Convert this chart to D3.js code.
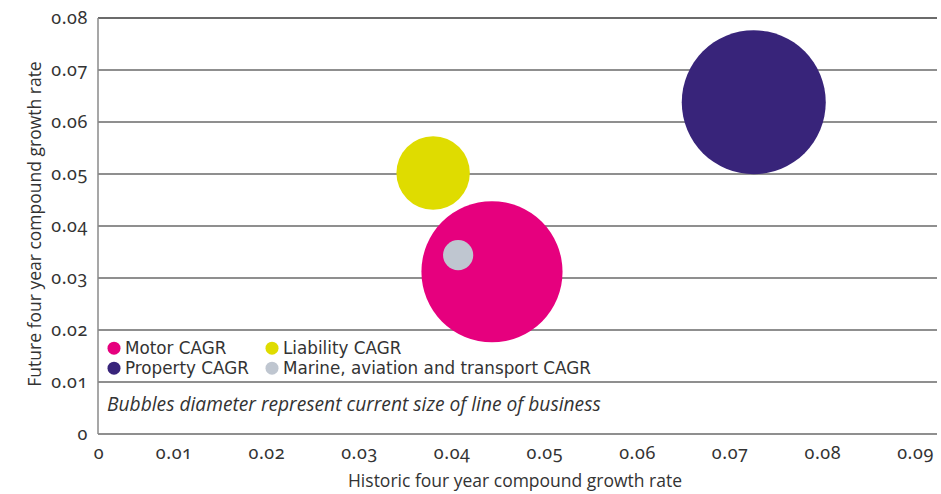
<!DOCTYPE html>
<html lang="en">
<head>
    <meta charset="UTF-8">
    <title>Line of business growth</title>
    <script src="https://d3js.org/d3.v7.min.js"></script>
    <style>
        body {
            margin: 0;
            background-color: #ffffff;
        }

        svg {
            display: block;
            font-family: "Open Sans", Roboto, sans-serif;
        }

        .grid line {
            stroke: #6a6a6a;
            stroke-width: 1.4px;
        }

        .axis path,
        .axis line {
            display: none;
        }

        .axis text {
            font-family: "Noto Sans", sans-serif;
            font-size: 18px;
            letter-spacing: 0.6px;
            font-variant-numeric: oldstyle-nums;
            fill: #333;
        }

        .axis-title {
            font-size: 17.5px;
            fill: #333;
        }

        .legend text {
            font-family: "DejaVu Sans", sans-serif;
            font-size: 16.8px;
            fill: #333;
        }

        .note {
            font-size: 19.2px;
            font-style: italic;
            fill: #333;
        }
    </style>
</head>
<body>
<svg width="941" height="494"></svg>
<script>
    // data
    const series = ["Motor CAGR", "Liability CAGR", "Property CAGR", "Marine, aviation and transport CAGR"];
    const historic = [0.04435, 0.0380, 0.0726, 0.0407];   // x
    const future = [0.0312, 0.0502, 0.0638, 0.0344];      // y
    const businessSize = [98, 51, 100, 21];                // bubble diameter
    const colors = ["#e6007e", "#dfdc00", "#38247a", "#bfc6d0"];
    const drawOrder = [2, 1, 0, 3];
    const legendOrder = [0, 1, 2, 3];

    const xTicks = [0, 0.01, 0.02, 0.03, 0.04, 0.05, 0.06, 0.07, 0.08, 0.09];
    const yTicks = [0, 0.01, 0.02, 0.03, 0.04, 0.05, 0.06, 0.07, 0.08];

    const svg = d3.select("svg"),
        margin = {top: 18, right: 4, bottom: 60, left: 98},
        width = +svg.attr("width") - margin.left - margin.right,
        height = +svg.attr("height") - margin.top - margin.bottom,
        g = svg.append("g").attr("transform", `translate(${margin.left},${margin.top})`);

    const x = d3.scaleLinear().domain([0, 0.09]).range([-17, 817]);
    const y = d3.scaleLinear().domain([0, 0.08]).range([height, 0]);
    const r = d3.scaleLinear().domain([0, d3.max(businessSize)]).range([0, 72]);

    // horizontal gridlines
    g.append("g")
        .attr("class", "grid")
        .selectAll("line")
        .data(yTicks)
        .join("line")
        .attr("x1", 0)
        .attr("x2", width)
        .attr("y1", d => y(d))
        .attr("y2", d => y(d))
        .style("stroke", d => d === 0.08 ? "#3a3a3a" : null);

    // y axis line
    g.append("line")
        .attr("x1", 0).attr("x2", 0)
        .attr("y1", 0).attr("y2", height)
        .attr("stroke", "#8a8a8a")
        .attr("stroke-width", 1.5);

    g.append("g")
        .attr("class", "axis axis--y")
        .call(d3.axisLeft(y).tickValues(yTicks).tickSize(0).tickPadding(10)
            .tickFormat(d => d === 0 ? "0" : d3.format(".2f")(d)));

    const xAxis = g.append("g")
        .attr("class", "axis axis--x")
        .attr("transform", `translate(0,${height})`)
        .call(d3.axisBottom(x).tickValues(xTicks).tickSize(0).tickPadding(12)
            .tickFormat(d => d === 0 ? "0" : d3.format(".2f")(d)));

    // the "0" label sits on the axis origin in the original
    xAxis.selectAll(".tick").filter(d => d === 0)
        .attr("transform", "translate(1,0)");

    // bubbles
    g.append("g")
        .selectAll("circle")
        .data(drawOrder)
        .join("circle")
        .attr("cx", i => x(historic[i]))
        .attr("cy", i => y(future[i]))
        .attr("r", i => r(businessSize[i]))
        .attr("fill", i => colors[i]);

    // legend
    const legend = g.append("g")
        .attr("class", "legend")
        .attr("transform", `translate(16,${y(0.0165)})`);

    const item = legend.selectAll("g")
        .data(legendOrder)
        .join("g")
        .attr("transform", (d, k) => `translate(${(k % 2) * 158},${Math.floor(k / 2) * 20})`);

    item.append("circle")
        .attr("r", 6.5)
        .attr("fill", d => colors[d]);

    item.append("text")
        .attr("x", 11)
        .attr("dy", "0.36em")
        .text(d => series[d]);

    g.append("text")
        .attr("class", "note")
        .attr("x", 9)
        .attr("y", y(0.0045))
        .text("Bubbles diameter represent current size of line of business");

    // axis titles
    svg.append("text")
        .attr("class", "axis-title")
        .attr("x", 515)
        .attr("y", 487)
        .style("text-anchor", "middle")
        .text("Historic four year compound growth rate");

    svg.append("text")
        .attr("class", "axis-title")
        .attr("transform", "rotate(-90)")
        .attr("x", -224)
        .attr("y", 41)
        .style("text-anchor", "middle")
        .text("Future four year compound growth rate");
</script>
</body>
</html>
